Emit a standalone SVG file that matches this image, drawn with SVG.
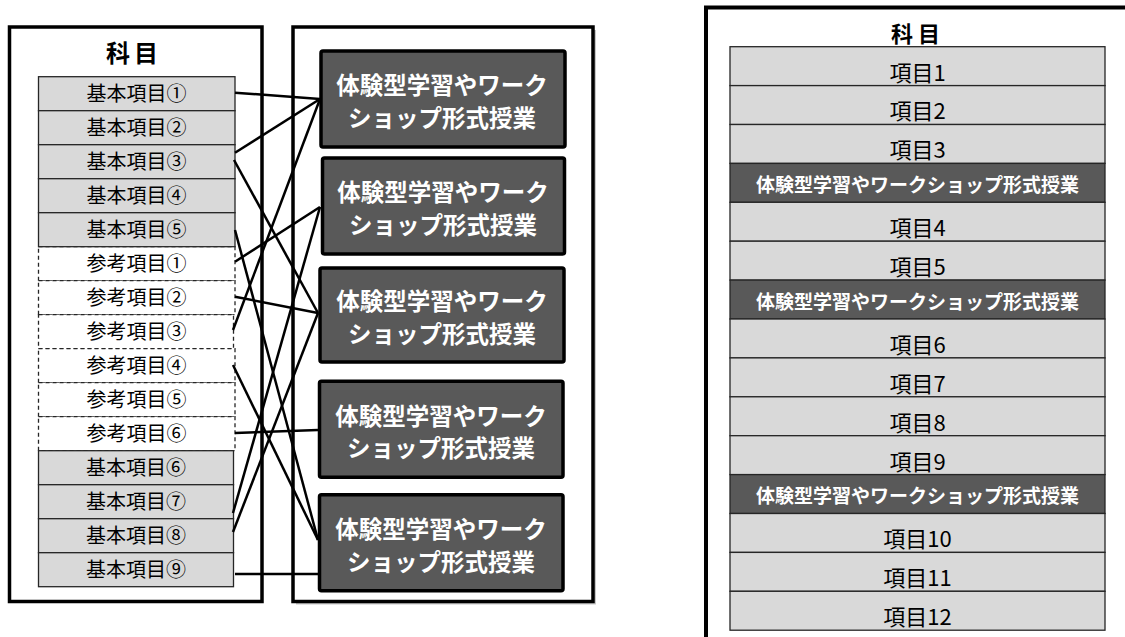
<svg xmlns="http://www.w3.org/2000/svg" width="1125" height="637" viewBox="0 0 1125 637">
<style>
text{font-family:"Noto Sans CJK JP","Noto Sans CJK SC",sans-serif;text-anchor:middle}
.panel{fill:#fff;stroke:#000;stroke-width:3.5}
.item{fill:#d9d9d9;stroke:#262626;stroke-width:1.3}
.ref{fill:#fff;stroke:#262626;stroke-width:1.3;stroke-dasharray:4 3}
.it{font-size:20px;fill:#000}
.title{font-size:24px;font-weight:bold;fill:#000;letter-spacing:4px}
.dbox{fill:#595959;stroke:#000;stroke-width:3.5}
.dt{font-size:23.5px;font-weight:bold;fill:#fff}
.row{fill:#d9d9d9;stroke:#262626;stroke-width:1.3}
.drow{fill:#595959;stroke:#262626;stroke-width:1.3}
.rt{font-size:22px;fill:#000}
.drt{font-size:19px;font-weight:bold;fill:#fff}
.conn line{stroke:#000;stroke-width:2.5}
</style>

<!-- left panel -->
<g id="left-panel">
<rect class="panel" x="9.5" y="27" width="252.5" height="574.5"/>
<text class="title" x="134" y="62">科目</text>
</g>

<!-- middle panel -->
<g id="middle-panel">
<rect x="296" y="30" width="300" height="574.5" fill="#c8c8c8"/>
<rect class="panel" x="293" y="27" width="300" height="574.5"/>
</g>

<!-- left items -->
<g id="ref1"><rect class="ref" x="38.5" y="246.7" width="196.5" height="34"/><text class="it" x="136.5" y="270.5">参考項目①</text></g>
<g id="ref2"><rect class="ref" x="38.5" y="280.7" width="196.5" height="34"/><text class="it" x="136.5" y="304.5">参考項目②</text></g>
<g id="ref3"><rect class="ref" x="38.5" y="314.7" width="195" height="34"/><text class="it" x="136.5" y="338.5">参考項目③</text></g>
<g id="ref4"><rect class="ref" x="38.5" y="348.7" width="196.5" height="34"/><text class="it" x="136.5" y="372.5">参考項目④</text></g>
<g id="ref5"><rect class="ref" x="38.5" y="382.7" width="196.5" height="34"/><text class="it" x="136.5" y="406.5">参考項目⑤</text></g>
<g id="ref6"><rect class="ref" x="38.5" y="416.7" width="196.5" height="34"/><text class="it" x="136.5" y="440.5">参考項目⑥</text></g>

<g id="basic1"><rect class="item" x="38.5" y="76.7" width="196.5" height="34"/><text class="it" x="136.5" y="100.5">基本項目①</text></g>
<g id="basic2"><rect class="item" x="38.5" y="110.7" width="196.5" height="34"/><text class="it" x="136.5" y="134.5">基本項目②</text></g>
<g id="basic3"><rect class="item" x="38.5" y="144.7" width="196.5" height="34"/><text class="it" x="136.5" y="168.5">基本項目③</text></g>
<g id="basic4"><rect class="item" x="38.5" y="178.7" width="196.5" height="34"/><text class="it" x="136.5" y="202.5">基本項目④</text></g>
<g id="basic5"><rect class="item" x="38.5" y="212.7" width="196.5" height="34"/><text class="it" x="136.5" y="236.5">基本項目⑤</text></g>
<g id="basic6"><rect class="item" x="38.5" y="450.7" width="195" height="34"/><text class="it" x="136" y="474.5">基本項目⑥</text></g>
<g id="basic7"><rect class="item" x="38.5" y="484.7" width="195" height="34"/><text class="it" x="136" y="508.5">基本項目⑦</text></g>
<g id="basic8"><rect class="item" x="38.5" y="518.7" width="195" height="34"/><text class="it" x="136" y="542.5">基本項目⑧</text></g>
<g id="basic9"><rect class="item" x="38.5" y="552.7" width="195" height="34"/><text class="it" x="136" y="576.5">基本項目⑨</text></g>

<!-- dark boxes -->
<g id="ws1"><rect class="dbox" x="321" y="51" width="244" height="96" rx="2"/><text class="dt" x="442" y="94">体験型学習やワーク</text><text class="dt" x="442" y="126.5">ショップ形式授業</text></g>
<g id="ws2"><rect class="dbox" x="322.5" y="158" width="242" height="96" rx="2"/><text class="dt" x="443" y="201">体験型学習やワーク</text><text class="dt" x="443" y="233.5">ショップ形式授業</text></g>
<g id="ws3"><rect class="dbox" x="320" y="268" width="244" height="94" rx="2"/><text class="dt" x="442" y="310">体験型学習やワーク</text><text class="dt" x="442" y="342.5">ショップ形式授業</text></g>
<g id="ws4"><rect class="dbox" x="319.5" y="381.3" width="243.5" height="96" rx="2"/><text class="dt" x="441" y="424.5">体験型学習やワーク</text><text class="dt" x="441" y="457">ショップ形式授業</text></g>
<g id="ws5"><rect class="dbox" x="319.5" y="494.7" width="243.5" height="96" rx="2"/><text class="dt" x="441" y="538">体験型学習やワーク</text><text class="dt" x="441" y="570.5">ショップ形式授業</text></g>

<!-- connectors -->
<g id="connectors" class="conn">
<line x1="235" y1="92.7" x2="320" y2="99"/>
<line x1="235" y1="152.7" x2="320" y2="99"/>
<line x1="233" y1="330" x2="320" y2="99"/>
<line x1="235" y1="261.7" x2="320" y2="207"/>
<line x1="233" y1="513" x2="320" y2="207"/>
<line x1="234" y1="160" x2="318" y2="313"/>
<line x1="235" y1="296.7" x2="318" y2="313"/>
<line x1="233" y1="532" x2="318" y2="313"/>
<line x1="235" y1="433" x2="318" y2="430"/>
<line x1="235" y1="230" x2="318" y2="540"/>
<line x1="233" y1="365" x2="318" y2="540"/>
<line x1="235" y1="574" x2="318" y2="574"/>
</g>

<!-- right panel -->
<g id="right-panel">
<rect x="706" y="7.5" width="500" height="700" fill="#fff" stroke="#000" stroke-width="4"/>
<text class="title" x="918" y="42" style="font-size:22px;letter-spacing:5px">科目</text>
</g>
<g id="r1"><rect class="row" x="730" y="46.7" width="375" height="38.9"/><text class="rt" x="917.5" y="80.5">項目1</text></g>
<g id="r2"><rect class="row" x="730" y="85.6" width="375" height="38.9"/><text class="rt" x="917.5" y="119.4">項目2</text></g>
<g id="r3"><rect class="row" x="730" y="124.5" width="375" height="38.9"/><text class="rt" x="917.5" y="158.3">項目3</text></g>
<g id="rw1"><rect class="drow" x="730" y="163.4" width="375" height="38.9"/><text class="drt" x="917.5" y="192.1">体験型学習やワークショップ形式授業</text></g>
<g id="r4"><rect class="row" x="730" y="202.3" width="375" height="38.9"/><text class="rt" x="917.5" y="236.1">項目4</text></g>
<g id="r5"><rect class="row" x="730" y="241.2" width="375" height="38.9"/><text class="rt" x="917.5" y="275">項目5</text></g>
<g id="rw2"><rect class="drow" x="730" y="280.1" width="375" height="38.9"/><text class="drt" x="917.5" y="308.8">体験型学習やワークショップ形式授業</text></g>
<g id="r6"><rect class="row" x="730" y="319" width="375" height="38.9"/><text class="rt" x="917.5" y="352.8">項目6</text></g>
<g id="r7"><rect class="row" x="730" y="357.9" width="375" height="38.9"/><text class="rt" x="917.5" y="391.7">項目7</text></g>
<g id="r8"><rect class="row" x="730" y="396.8" width="375" height="38.9"/><text class="rt" x="917.5" y="430.6">項目8</text></g>
<g id="r9"><rect class="row" x="730" y="435.7" width="375" height="38.9"/><text class="rt" x="917.5" y="469.5">項目9</text></g>
<g id="rw3"><rect class="drow" x="730" y="474.6" width="375" height="38.9"/><text class="drt" x="917.5" y="503.3">体験型学習やワークショップ形式授業</text></g>
<g id="r10"><rect class="row" x="730" y="513.5" width="375" height="38.9"/><text class="rt" x="917.5" y="547.3">項目10</text></g>
<g id="r11"><rect class="row" x="730" y="552.4" width="375" height="38.9"/><text class="rt" x="917.5" y="586.2">項目11</text></g>
<g id="r12"><rect class="row" x="730" y="591.3" width="375" height="38.9"/><text class="rt" x="917.5" y="625.1">項目12</text></g>
</svg>
